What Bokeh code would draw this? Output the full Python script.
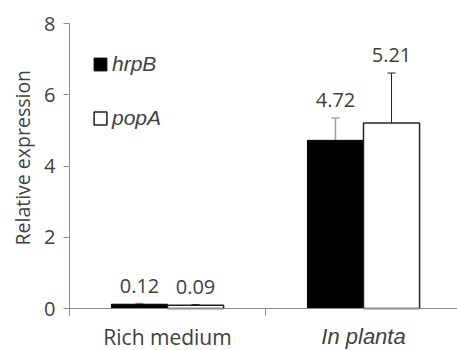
from bokeh.plotting import figure
from bokeh.models import (ColumnDataSource, Range1d, FixedTicker, Whisker, TeeHead,
                          Legend, LegendItem, Title)
from bokeh.core.properties import value
from bokeh.embed import file_html
from bokeh.resources import INLINE

categories = ["Rich medium", "In planta"]
category_style = ["normal", "italic"]
series = ["hrpB", "popA"]
hrpB = [0.12, 4.72]
popA = [0.09, 5.21]
hrpB_err = [0.02, 0.63]
popA_err = [0.02, 1.40]
hrpB_labels = ["0.12", "4.72"]
popA_labels = ["0.09", "5.21"]
y_ticks = [0, 2, 4, 6, 8]

TXT = "#404040"
AX = "#8c8c8c"
FONT = "Open Sans"

# frame: top 23px, y=0 at 308px, bottom of window 350px
ymin = -42 / 35.625
p = figure(width=457, height=350, output_backend="svg", toolbar_location=None,
           x_range=Range1d(0, 388 / 196), y_range=Range1d(ymin, 8),
           min_border_left=69, min_border_right=0, min_border_top=23, min_border_bottom=0)
p.outline_line_color = None
p.xgrid.grid_line_color = None
p.ygrid.grid_line_color = None
p.background_fill_color = "white"

centers = [i + 0.5 for i in range(len(categories))]
bw = 0.286
offs = [-bw / 2, bw / 2]

def make_src(vals, errs, labs, off):
    x = [c + off for c in centers]
    return ColumnDataSource(dict(x=x, top=vals, upper=[v + e for v, e in zip(vals, errs)],
                                 lower=[v - e for v, e in zip(vals, errs)], lab=labs))

s1 = make_src(hrpB, hrpB_err, hrpB_labels, offs[0])
s2 = make_src(popA, popA_err, popA_labels, offs[1])

r1 = p.vbar(x="x", top="top", width=bw, source=s1, fill_color="black", line_color="black", line_width=1)
r2 = p.vbar(x="x", top="top", width=bw, source=s2, fill_color="white", line_color="#222222", line_width=1.5)

w1 = Whisker(base="x", upper="upper", lower="lower", source=s1, line_color="#a0a0a0", line_width=1.5,
             upper_head=TeeHead(size=8, line_color="#a0a0a0", line_width=1.5),
             lower_head=TeeHead(size=8, line_color="#a0a0a0", line_width=1.5))
w2 = Whisker(base="x", upper="upper", lower="lower", source=s2, line_color="#222222", line_width=1,
             upper_head=TeeHead(size=8, line_color="#222222", line_width=1),
             lower_head=TeeHead(size=8, line_color="#222222", line_width=1))
p.add_layout(w1)
p.add_layout(w2)

for s in (s1, s2):
    p.text(x="x", y="upper", text="lab", source=s, text_align="center", text_baseline="alphabetic",
           y_offset=-18, text_font=value(FONT), text_font_size="20px", text_color=TXT)

# category labels below the axis
cat_src = ColumnDataSource(dict(x=centers, y=[-28 / 35.625] * len(categories), t=categories,
                                st=category_style,
                                f=["Open Sans" if s == "normal" else "Liberation Sans" for s in category_style],
                                fs=["21px" if s == "normal" else "22px" for s in category_style]))
p.text(x="x", y="y", text="t", source=cat_src, text_align="center", text_baseline="alphabetic",
       text_font="f", text_font_style="st", text_font_size="fs", text_color=TXT)

# axes
p.yaxis.ticker = FixedTicker(ticks=y_ticks)
p.yaxis.bounds = (-0.2, 8)
p.yaxis.axis_line_color = AX
p.yaxis.major_tick_line_color = AX
p.yaxis.major_tick_out = 6
p.yaxis.major_tick_in = 0
p.yaxis.minor_tick_line_color = None
p.yaxis.major_label_text_font = FONT
p.yaxis.major_label_text_font_size = "20px"
p.yaxis.major_label_text_color = TXT
p.yaxis.major_label_standoff = 8

ytitle = Title(text="Relative expression", align="left", offset=105, standoff=11,
               text_font=FONT, text_font_size="19.5px", text_font_style="normal",
               text_color=TXT)
p.add_layout(ytitle, "left")

p.xaxis.fixed_location = 0
p.xaxis.ticker = FixedTicker(ticks=[0, 1, 2])
p.xaxis.axis_line_color = AX
p.xaxis.major_tick_line_color = AX
p.xaxis.major_tick_out = 7
p.xaxis.major_tick_in = 0
p.xaxis.minor_tick_line_color = None
p.xaxis.major_label_text_font_size = "0px"
p.xaxis.major_label_text_color = None

legend = Legend(items=[LegendItem(label=series[0], renderers=[r1]),
                       LegendItem(label=series[1], renderers=[r2])],
                location=(23, 220), orientation="vertical",
                glyph_width=16, glyph_height=16, label_height=20, spacing=30,
                padding=0, margin=0, label_standoff=4,
                label_text_font="Liberation Sans", label_text_font_style="italic",
                label_text_font_size="21px", label_text_color=TXT,
                border_line_color=None, background_fill_alpha=0)
p.add_layout(legend)

open("out.html", "w").write(file_html(p, INLINE))
